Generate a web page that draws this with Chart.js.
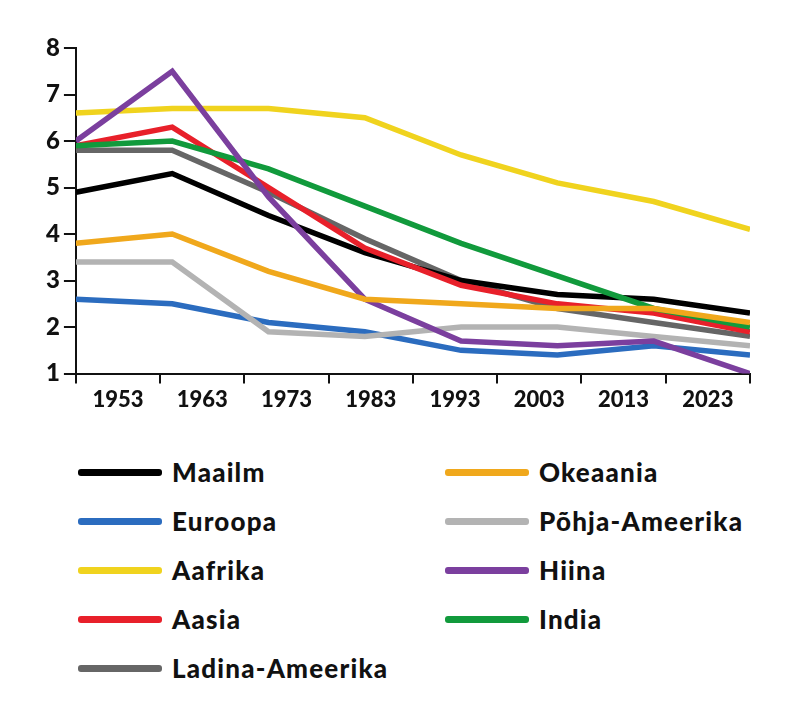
<!DOCTYPE html><html><head><meta charset="utf-8"><script src="https://cdn.jsdelivr.net/npm/chart.js@4"></script>
<style>body{margin:0;background:#fff;font-family:Lato,sans-serif}
#wrap{position:absolute;left:0;top:0;width:800px;height:416px}
#leg{position:absolute;left:78px;top:457px;width:720px;display:grid;grid-template-columns:367px 350px;row-gap:19px}
.it{display:flex;align-items:center;font-weight:900;font-size:26px;letter-spacing:1.2px;color:#111;height:30px}
.sw{width:84px;height:7px;margin-right:10px;border-radius:3px}</style></head><body>
<div id="wrap"><canvas id="c"></canvas></div><div id="leg"></div>
<script>
const names=["Maailm","Okeaania","Euroopa","Põhja-Ameerika","Aafrika","Hiina","Aasia","India","Ladina-Ameerika"];
const colors=["#000000","#f0a81c","#2b6cbf","#b3b3b3","#f0d31e","#7b3f9e","#e8202a","#119a3c","#666666"];
const tickLabels=["1953","1963","1973","1983","1993","2003","2013","2023"];
const maailm=[4.9,5.3,4.4,3.6,3.0,2.7,2.6,2.3];
const okeaania=[3.8,4.0,3.2,2.6,2.5,2.4,2.4,2.1];
const euroopa=[2.6,2.5,2.1,1.9,1.5,1.4,1.6,1.4];
const pohjaAmeerika=[3.4,3.4,1.9,1.8,2.0,2.0,1.8,1.6];
const aafrika=[6.6,6.7,6.7,6.5,5.7,5.1,4.7,4.1];
const hiina=[6.0,7.5,4.8,2.6,1.7,1.6,1.7,1.0];
const aasia=[5.9,6.3,5.0,3.7,2.9,2.5,2.3,1.9];
const india=[5.9,6.0,5.4,4.6,3.8,3.1,2.4,2.0];
const ladina=[5.8,5.8,4.9,3.9,3.0,2.4,2.1,1.8];
const series=[maailm,okeaania,euroopa,pohjaAmeerika,aafrika,hiina,aasia,india,ladina];
const order=[4,0,7,6,8,1,3,2,5];
const ds=series.map((s,i)=>({label:names[i],data:s.map((v,j)=>({x:j*80/7,y:v})),borderColor:colors[i],borderWidth:5.5,pointRadius:0,tension:0,order:order[i]}));
new Chart(document.getElementById('c'),{type:'line',data:{datasets:ds},options:{responsive:true,maintainAspectRatio:false,animation:false,
layout:{padding:{top:48,right:50,left:42,bottom:0}},
plugins:{legend:{display:false},tooltip:{enabled:false}},
scales:{x:{type:'linear',min:0,max:80,afterBuildTicks:a=>{a.ticks=[];for(let v=0;v<=80;v+=5)a.ticks.push({value:v});},
border:{color:'#111',width:2},
grid:{drawOnChartArea:false,tickLength:10,lineWidth:2,color:c=>(c.tick&&c.tick.value%10===0)?'#111':'rgba(0,0,0,0)'},
ticks:{autoSkip:false,maxRotation:0,color:'#111',font:{family:'Lato',weight:900,size:22},callback:v=>v%10===5?tickLabels[(v-5)/10]:''}},
y:{min:1,max:8,border:{color:'#111',width:2},grid:{drawOnChartArea:false,tickLength:12,lineWidth:2,color:'#111'},
ticks:{stepSize:1,color:'#111',padding:4,font:{family:'Lato',weight:900,size:24}}}}}});
const leg=document.getElementById('leg');
[0,1,2,3,4,5,6,7,8].forEach(i=>{const d=document.createElement('div');d.className='it';d.innerHTML='<span class="sw" style="background:'+colors[i]+'"></span>'+names[i];leg.appendChild(d);});
</script></body></html>
